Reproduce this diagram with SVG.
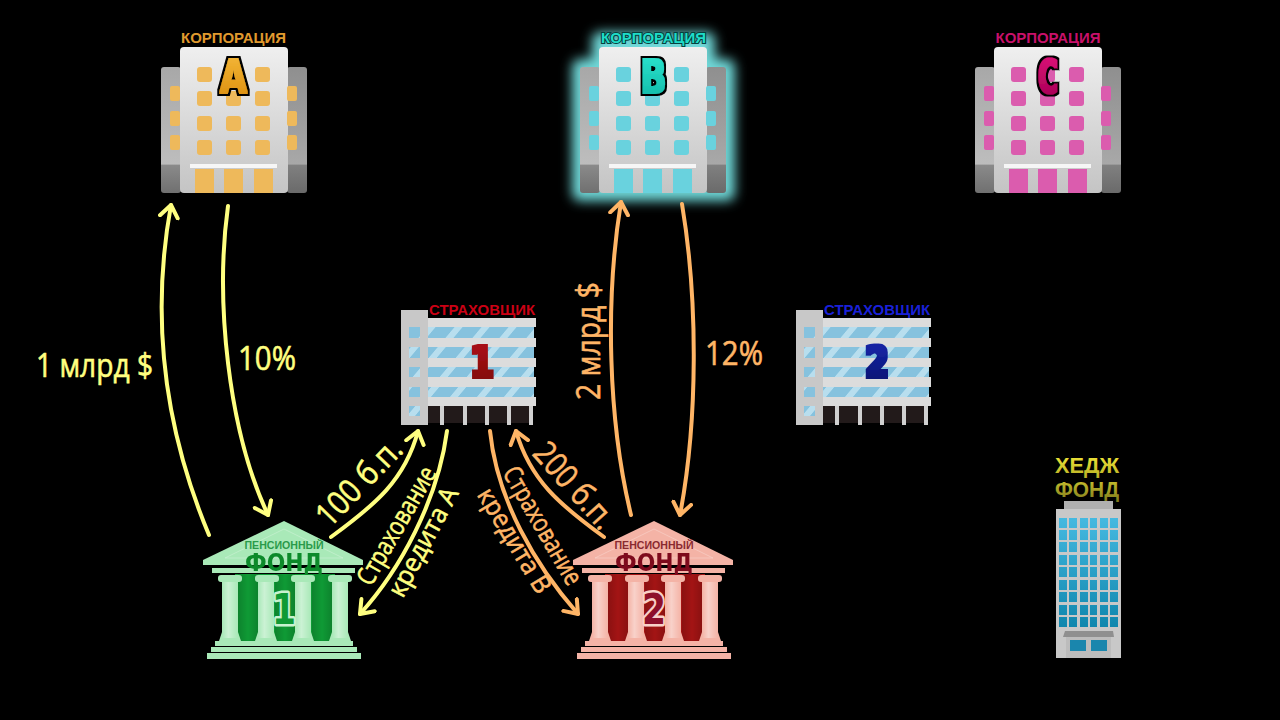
<svg xmlns="http://www.w3.org/2000/svg" width="1280" height="720" viewBox="0 0 1280 720">
<style>
.lbl{font-family:"Liberation Sans",Arial,sans-serif;font-weight:700;text-anchor:middle}
.big{font-family:"DejaVu Sans",sans-serif;font-weight:700;text-anchor:middle;paint-order:stroke;stroke-linejoin:round}
.hand{font-family:"Open Sans","Liberation Sans",sans-serif;font-weight:400;text-anchor:middle;stroke-width:.6}
.y{fill:#ffff80;stroke:#ffff80}.o{fill:#ffb566;stroke:#ffb566}
.ay{fill:none;stroke:#ffff80;stroke-width:4;stroke-linecap:round;marker-end:url(#hy)}
.ao{fill:none;stroke:#ffb566;stroke-width:4;stroke-linecap:round;marker-end:url(#ho)}
.w{fill:currentColor}
.ped{fill:var(--l)}.pdk{fill:var(--d)}
</style>
<defs>
<linearGradient id="body" x1="0" y1="0" x2="0" y2="1"><stop offset="0" stop-color="#efefef"/><stop offset="1" stop-color="#c4c4c4"/></linearGradient>
<linearGradient id="wing" x1="0" y1="0" x2="0" y2="1"><stop offset="0" stop-color="#a8a8a8"/><stop offset=".77" stop-color="#bdbdbd"/><stop offset=".78" stop-color="#8a8a8a"/><stop offset="1" stop-color="#707070"/></linearGradient>
<linearGradient id="wingR" x1="0" y1="0" x2="0" y2="1"><stop offset="0" stop-color="#8f8f8f"/><stop offset=".77" stop-color="#a8a8a8"/><stop offset=".78" stop-color="#808080"/><stop offset="1" stop-color="#6a6a6a"/></linearGradient>
<linearGradient id="colShade" x1="0" y1="0" x2="1" y2="0"><stop offset="0" stop-color="#fff" stop-opacity="0"/><stop offset=".4" stop-color="#fff" stop-opacity=".4"/><stop offset="1" stop-color="#fff" stop-opacity="0"/></linearGradient>
<linearGradient id="bgShade" x1="0" y1="0" x2="1" y2="0"><stop offset="0" stop-color="#000" stop-opacity=".15"/><stop offset=".5" stop-color="#000" stop-opacity="0"/><stop offset="1" stop-color="#000" stop-opacity=".15"/></linearGradient>
<linearGradient id="hwin" gradientUnits="userSpaceOnUse" x1="0" y1="518" x2="0" y2="627"><stop offset="0" stop-color="#45b9e0"/><stop offset="1" stop-color="#0f86ad"/></linearGradient>
<linearGradient id="yel" x1="0" y1="0" x2="0" y2="1"><stop offset="0" stop-color="#f5ea3a"/><stop offset="1" stop-color="#b8b025"/></linearGradient>
<linearGradient id="yel2" x1="0" y1="0" x2="0" y2="1"><stop offset="0" stop-color="#d0c830"/><stop offset="1" stop-color="#7f7a1c"/></linearGradient>
<linearGradient id="gA" x1="0" y1="0" x2="0" y2="1"><stop offset="0" stop-color="#f5b93a"/><stop offset="1" stop-color="#d98a0a"/></linearGradient>
<linearGradient id="gB" x1="0" y1="0" x2="0" y2="1"><stop offset="0" stop-color="#2be6cf"/><stop offset="1" stop-color="#10b5a5"/></linearGradient>
<linearGradient id="gC" x1="0" y1="0" x2="0" y2="1"><stop offset="0" stop-color="#e0107a"/><stop offset="1" stop-color="#a00050"/></linearGradient>
<linearGradient id="gR" x1="0" y1="0" x2="0" y2="1"><stop offset="0" stop-color="#b01418"/><stop offset="1" stop-color="#7a0408"/></linearGradient>
<linearGradient id="gBl" x1="0" y1="0" x2="0" y2="1"><stop offset="0" stop-color="#1628b0"/><stop offset="1" stop-color="#081068"/></linearGradient>
<pattern id="glass" width="27" height="12" patternUnits="userSpaceOnUse" patternTransform="skewX(-40)"><rect width="27" height="12" fill="#86c2de"/><rect width="8" height="12" fill="#b8deee"/></pattern>
<marker id="hy" viewBox="-14 -11 18 22" refX="0" refY="0" markerWidth="18" markerHeight="22" markerUnits="userSpaceOnUse" orient="auto"><path d="M-12,-9 L0,0 L-12,9" fill="none" stroke="#ffff80" stroke-width="4" stroke-linecap="round" stroke-linejoin="round"/></marker>
<marker id="ho" viewBox="-14 -11 18 22" refX="0" refY="0" markerWidth="18" markerHeight="22" markerUnits="userSpaceOnUse" orient="auto"><path d="M-12,-9 L0,0 L-12,9" fill="none" stroke="#ffb566" stroke-width="4" stroke-linecap="round" stroke-linejoin="round"/></marker>
<filter id="glow" x="-25%" y="-25%" width="150%" height="150%"><feGaussianBlur stdDeviation="6"/></filter>
<filter id="fatBlack" x="-30%" y="-30%" width="160%" height="160%"><feMorphology in="SourceGraphic" operator="dilate" radius="1" result="f"/><feMorphology in="SourceAlpha" operator="dilate" radius="3" result="o"/><feMerge><feMergeNode in="o"/><feMergeNode in="f"/></feMerge></filter>
<filter id="fat" x="-30%" y="-30%" width="160%" height="160%"><feMorphology in="SourceGraphic" operator="dilate" radius="1.500"/></filter>
<filter id="fatThin" x="-10%" y="-10%" width="120%" height="120%"><feMorphology in="SourceGraphic" operator="dilate" radius=".4"/></filter>

<g id="corp">
<rect x="161" y="67" width="20" height="126" rx="3" fill="url(#wing)"/>
<rect x="287" y="67" width="20" height="126" rx="3" fill="url(#wingR)"/>
<rect x="180" y="47" width="108" height="146" rx="4" fill="url(#body)"/>
<g class="w">
<rect x="170" y="86" width="10" height="15" rx="2"/><rect x="170" y="111" width="10" height="15" rx="2"/><rect x="170" y="135" width="10" height="15" rx="2"/>
<rect x="287" y="86" width="10" height="15" rx="2"/><rect x="287" y="111" width="10" height="15" rx="2"/><rect x="287" y="135" width="10" height="15" rx="2"/>
<rect x="197" y="67" width="15" height="15" rx="3"/><rect x="226" y="67" width="15" height="15" rx="3"/><rect x="255" y="67" width="15" height="15" rx="3"/>
<rect x="197" y="91" width="15" height="15" rx="3"/><rect x="226" y="91" width="15" height="15" rx="3"/><rect x="255" y="91" width="15" height="15" rx="3"/>
<rect x="197" y="116" width="15" height="15" rx="3"/><rect x="226" y="116" width="15" height="15" rx="3"/><rect x="255" y="116" width="15" height="15" rx="3"/>
<rect x="197" y="140" width="15" height="15" rx="3"/><rect x="226" y="140" width="15" height="15" rx="3"/><rect x="255" y="140" width="15" height="15" rx="3"/>
<rect x="195" y="169" width="19" height="24"/><rect x="224" y="169" width="19" height="24"/><rect x="254" y="169" width="19" height="24"/>
</g>
<rect x="190" y="164" width="87" height="4" fill="#f6f6f6"/>
</g>

<g id="ins">
<g fill="#221a1a"><rect x="428" y="406" width="105" height="17"/></g>
<g fill="#d0d0d0"><rect x="440" y="406" width="4" height="19"/><rect x="463" y="406" width="4" height="19"/><rect x="485" y="406" width="4" height="19"/><rect x="507" y="406" width="4" height="19"/><rect x="529" y="406" width="4" height="19"/></g>
<rect x="428" y="327" width="106" height="70" fill="url(#glass)"/>
<g fill="#dcdcdc"><rect x="428" y="318" width="108" height="9"/><rect x="428" y="338" width="108" height="9"/><rect x="428" y="358" width="108" height="9"/><rect x="428" y="377" width="108" height="10"/><rect x="428" y="397" width="108" height="9"/></g>
<rect x="401" y="310" width="27" height="115" fill="#c8c8c8"/>
<g fill="url(#glass)"><rect x="409" y="327" width="11" height="11"/><rect x="409" y="347" width="11" height="11"/><rect x="409" y="367" width="11" height="10"/><rect x="409" y="387" width="11" height="10"/><rect x="409" y="406" width="11" height="10"/></g>
</g>

<g id="pen">
<rect x="235" y="574" width="100" height="70" class="pdk"/>
<rect x="238" y="574" width="20" height="70" fill="url(#bgShade)"/><rect x="275" y="574" width="20" height="70" fill="url(#bgShade)"/><rect x="312" y="574" width="20" height="70" fill="url(#bgShade)"/>
<g class="ped">
<path d="M284,521 L363,560 L363,565 L203,565 L203,560 Z"/>
<rect x="212" y="568" width="143" height="5"/>
<rect x="218" y="575" width="24" height="7" rx="3"/><rect x="255" y="575" width="24" height="7" rx="3"/><rect x="291" y="575" width="24" height="7" rx="3"/><rect x="328" y="575" width="24" height="7" rx="3"/>
<path d="M222,582 H238 V632 L241,641 H219 L222,632 Z"/><path d="M258,582 H274 V632 L277,641 H255 L258,632 Z"/><path d="M295,582 H311 V632 L314,641 H292 L295,632 Z"/><path d="M332,582 H348 V632 L351,641 H329 L332,632 Z"/>
<rect x="215" y="641" width="138" height="5"/><rect x="211" y="647" width="146" height="5"/><rect x="207" y="653" width="154" height="6"/>
</g>
<g fill="url(#colShade)"><rect x="222" y="582" width="16" height="56"/><rect x="258" y="582" width="16" height="56"/><rect x="295" y="582" width="16" height="56"/><rect x="332" y="582" width="16" height="56"/></g>
<path d="M284,529 L343,558 L225,558 Z" fill="none" stroke="#fff" stroke-opacity=".25"/>
</g>
</defs>

<rect width="1280" height="720" fill="#000"/>

<g id="corp-a" color="#eeb95b">
<use href="#corp"/>
<text class="lbl" x="233.500" y="43" font-size="14" fill="#e09a2e" textLength="105" lengthAdjust="spacingAndGlyphs">КОРПОРАЦИЯ</text>
<text class="big" x="233.500" y="93" font-size="46" fill="url(#gA)" filter="url(#fatBlack)" textLength="27" lengthAdjust="spacingAndGlyphs">A</text>
</g>

<g id="corp-b" color="#69d2de">
<path d="M600,40 H707 V67 H727 V193 H580 V67 H600 Z" fill="#6fd8d8" stroke="#6fd8d8" stroke-width="16" stroke-linejoin="round" filter="url(#glow)"/>
<use href="#corp" x="419"/>
<text class="lbl" x="653.500" y="43" font-size="14" fill="#1fdcc8" stroke="#06403e" stroke-width="2" style="paint-order:stroke" textLength="105" lengthAdjust="spacingAndGlyphs">КОРПОРАЦИЯ</text>
<text class="big" x="653.500" y="93" font-size="46" fill="url(#gB)" filter="url(#fatBlack)" textLength="26" lengthAdjust="spacingAndGlyphs">B</text>
</g>

<g id="corp-c" color="#db5cae">
<use href="#corp" x="814"/>
<text class="lbl" x="1048" y="43" font-size="14" fill="#c8106a" textLength="105" lengthAdjust="spacingAndGlyphs">КОРПОРАЦИЯ</text>
<text class="big" x="1048" y="93" font-size="46" fill="url(#gC)" filter="url(#fatBlack)" textLength="20" lengthAdjust="spacingAndGlyphs">C</text>
</g>

<g id="insurer-1">
<use href="#ins"/>
<text class="lbl" x="482" y="315" font-size="14" fill="#cc0014" textLength="106" lengthAdjust="spacingAndGlyphs">СТРАХОВЩИК</text>
<text class="big" x="482" y="377" font-size="43" fill="url(#gR)" filter="url(#fat)" textLength="24" lengthAdjust="spacingAndGlyphs">1</text>
</g>

<g id="insurer-2">
<use href="#ins" x="395"/>
<text class="lbl" x="877" y="315" font-size="14" fill="#1a20d8" textLength="106" lengthAdjust="spacingAndGlyphs">СТРАХОВЩИК</text>
<text class="big" x="877" y="377" font-size="43" fill="url(#gBl)" filter="url(#fat)" textLength="24" lengthAdjust="spacingAndGlyphs">2</text>
</g>

<g id="pension-1" style="--l:#a9e9b8;--d:#0f9a35">
<use href="#pen"/>
<text class="lbl" x="284" y="549" font-size="11" fill="#2a9a4a" font-weight="400" textLength="79" lengthAdjust="spacingAndGlyphs">ПЕНСИОННЫЙ</text>
<text class="big" x="284" y="571" font-size="25" fill="#0c8a2a" filter="url(#fatThin)" textLength="78" lengthAdjust="spacingAndGlyphs">ФОНД</text>
<text class="big" x="284" y="624" font-size="43" fill="#0f9a35" stroke="#c8f2d0" stroke-width="5" textLength="24" lengthAdjust="spacingAndGlyphs">1</text>
</g>

<g id="pension-2" style="--l:#f4b3a6;--d:#a31414">
<use href="#pen" x="370"/>
<text class="lbl" x="654" y="549" font-size="11" fill="#8a2a30" font-weight="400" textLength="79" lengthAdjust="spacingAndGlyphs">ПЕНСИОННЫЙ</text>
<text class="big" x="654" y="571" font-size="25" fill="#7e0a1c" filter="url(#fatThin)" textLength="78" lengthAdjust="spacingAndGlyphs">ФОНД</text>
<text class="big" x="654" y="624" font-size="43" fill="#8e0f2a" stroke="#f8d0c8" stroke-width="5" textLength="24" lengthAdjust="spacingAndGlyphs">2</text>
</g>

<g id="hedge-fund">
<text class="lbl" x="1087" y="473" font-size="22" fill="url(#yel)" textLength="64" lengthAdjust="spacingAndGlyphs">ХЕДЖ</text>
<text class="lbl" x="1087" y="497" font-size="22" fill="url(#yel2)" textLength="64" lengthAdjust="spacingAndGlyphs">ФОНД</text>
<rect x="1064" y="501" width="49" height="8" fill="#b0b0b0"/>
<rect x="1056" y="509" width="65" height="149" fill="#c8c8c8"/>
<g fill="url(#hwin)">
<rect x="1059" y="518" width="8" height="10"/><rect x="1069" y="518" width="8" height="10"/><rect x="1080" y="518" width="8" height="10"/><rect x="1090" y="518" width="7" height="10"/><rect x="1100" y="518" width="8" height="10"/><rect x="1110" y="518" width="8" height="10"/>
<rect x="1059" y="530" width="8" height="10"/><rect x="1069" y="530" width="8" height="10"/><rect x="1080" y="530" width="8" height="10"/><rect x="1090" y="530" width="7" height="10"/><rect x="1100" y="530" width="8" height="10"/><rect x="1110" y="530" width="8" height="10"/>
<rect x="1059" y="542" width="8" height="10"/><rect x="1069" y="542" width="8" height="10"/><rect x="1080" y="542" width="8" height="10"/><rect x="1090" y="542" width="7" height="10"/><rect x="1100" y="542" width="8" height="10"/><rect x="1110" y="542" width="8" height="10"/>
<rect x="1059" y="555" width="8" height="10"/><rect x="1069" y="555" width="8" height="10"/><rect x="1080" y="555" width="8" height="10"/><rect x="1090" y="555" width="7" height="10"/><rect x="1100" y="555" width="8" height="10"/><rect x="1110" y="555" width="8" height="10"/>
<rect x="1059" y="567" width="8" height="10"/><rect x="1069" y="567" width="8" height="10"/><rect x="1080" y="567" width="8" height="10"/><rect x="1090" y="567" width="7" height="10"/><rect x="1100" y="567" width="8" height="10"/><rect x="1110" y="567" width="8" height="10"/>
<rect x="1059" y="580" width="8" height="10"/><rect x="1069" y="580" width="8" height="10"/><rect x="1080" y="580" width="8" height="10"/><rect x="1090" y="580" width="7" height="10"/><rect x="1100" y="580" width="8" height="10"/><rect x="1110" y="580" width="8" height="10"/>
<rect x="1059" y="592" width="8" height="10"/><rect x="1069" y="592" width="8" height="10"/><rect x="1080" y="592" width="8" height="10"/><rect x="1090" y="592" width="7" height="10"/><rect x="1100" y="592" width="8" height="10"/><rect x="1110" y="592" width="8" height="10"/>
<rect x="1059" y="605" width="8" height="10"/><rect x="1069" y="605" width="8" height="10"/><rect x="1080" y="605" width="8" height="10"/><rect x="1090" y="605" width="7" height="10"/><rect x="1100" y="605" width="8" height="10"/><rect x="1110" y="605" width="8" height="10"/>
<rect x="1059" y="617" width="8" height="10"/><rect x="1069" y="617" width="8" height="10"/><rect x="1080" y="617" width="8" height="10"/><rect x="1090" y="617" width="7" height="10"/><rect x="1100" y="617" width="8" height="10"/><rect x="1110" y="617" width="8" height="10"/>
</g>
<rect x="1066" y="637" width="45" height="21" fill="#bcbcbc"/>
<path d="M1065,631 H1113 L1114,637 H1063 Z" fill="#8f8f8f"/>
<rect x="1070" y="640" width="16" height="11" fill="#1a86ad"/><rect x="1091" y="640" width="16" height="11" fill="#1a86ad"/>
</g>

<g id="connectors">
<path class="ay" d="M209,535 C165,430 150,320 171,205"/>
<path class="ay" d="M228,206 C215,300 228,430 268,515"/>
<path class="ay" d="M331,537 C375,505 405,480 418,431"/>
<path class="ay" d="M447,431 C438,500 400,570 360,614"/>
<path class="ao" d="M490,431 C497,500 535,565 578,614"/>
<path class="ao" d="M604,537 C560,505 530,480 516,431"/>
<path class="ao" d="M631,515 C608,420 605,300 621,202"/>
<path class="ao" d="M682,204 C698,300 698,420 680,515"/>
</g>

<g id="labels">
<text class="hand y" x="94.500" y="377" font-size="33" textLength="117" lengthAdjust="spacingAndGlyphs">1 млрд $</text>
<text class="hand y" x="267" y="370" font-size="33" textLength="58" lengthAdjust="spacingAndGlyphs">10%</text>
<text class="hand o" x="734" y="365" font-size="33" textLength="58" lengthAdjust="spacingAndGlyphs">12%</text>
<text class="hand o" transform="translate(600,341) rotate(-90)" font-size="33" textLength="118" lengthAdjust="spacingAndGlyphs">2 млрд $</text>
<text class="hand y" transform="translate(367,490) rotate(-46)" font-size="33" textLength="108" lengthAdjust="spacingAndGlyphs">100 б.п.</text>
<text class="hand o" transform="translate(566,493) rotate(48)" font-size="33" textLength="104" lengthAdjust="spacingAndGlyphs">200 б.п.</text>
<text class="hand y" transform="translate(404,530) rotate(-60)" font-size="26" textLength="132" lengthAdjust="spacingAndGlyphs">Страхование</text>
<text class="hand y" transform="translate(431,546) rotate(-62)" font-size="26" textLength="120" lengthAdjust="spacingAndGlyphs">кредита А</text>
<text class="hand o" transform="translate(535,530) rotate(60)" font-size="26" textLength="132" lengthAdjust="spacingAndGlyphs">Страхование</text>
<text class="hand o" transform="translate(507,545) rotate(59)" font-size="26" textLength="118" lengthAdjust="spacingAndGlyphs">кредита В</text>
</g>
</svg>
